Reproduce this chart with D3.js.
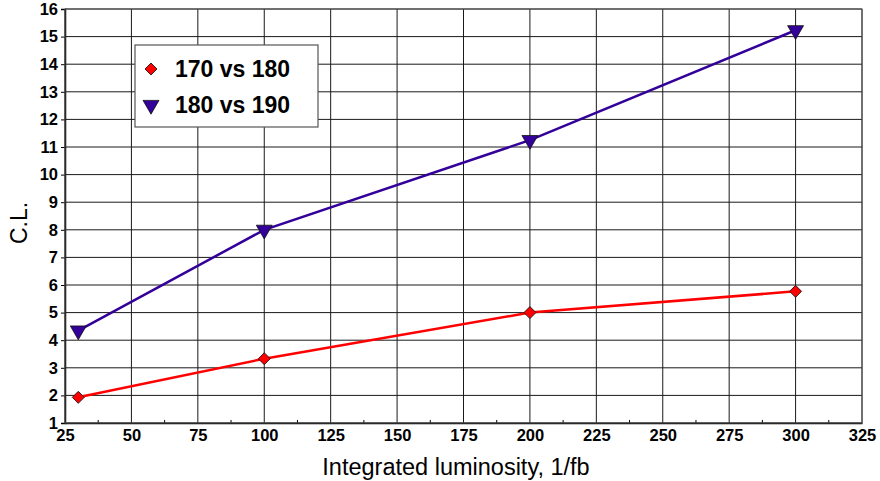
<!DOCTYPE html>
<html>
<head>
<meta charset="utf-8">
<script src="https://cdn.jsdelivr.net/npm/d3@7"></script>
<style>
  body { margin: 0; background: #fff; }
  svg { display: block; font-family: "Liberation Sans", Arial, sans-serif; }
</style>
</head>
<body>
<svg id="chart" width="880" height="481"></svg>
<script>
const lumi = [30, 100, 200, 300];
const cl170vs180 = [1.93, 3.33, 5.0, 5.77];
const cl180vs190 = [4.35, 8.0, 11.25, 15.23];
const seriesNames = ["170 vs 180", "180 vs 190"];
const xTicks = d3.range(25, 326, 25);
const yTicks = d3.range(1, 17, 1);

const width = 880;
const height = 481;
const margin = { top: 9, right: 18, bottom: 58, left: 65 };

const svg = d3.select("#chart");

const x = d3.scaleLinear().domain([25, 325]).range([margin.left, width - margin.right]);
const y = d3.scaleLinear().domain([1, 16]).range([height - margin.bottom, margin.top]);

// grid
const grid = svg.append("g");
grid.selectAll("line.v")
  .data(xTicks)
  .enter()
  .append("line")
  .attr("x1", (d) => x(d)).attr("x2", (d) => x(d))
  .attr("y1", y(1)).attr("y2", y(16))
  .attr("stroke", "#1a1a1a")
  .attr("stroke-width", 1);
grid.selectAll("line.h")
  .data(yTicks)
  .enter()
  .append("line")
  .attr("x1", x(25)).attr("x2", x(325))
  .attr("y1", (d) => y(d)).attr("y2", (d) => y(d))
  .attr("stroke", "#1a1a1a")
  .attr("stroke-width", 1);

// minor ticks on x axis (inside)
svg.append("g")
  .selectAll("line")
  .data(xTicks.slice(0, -1).map((d) => d + 12.5))
  .enter()
  .append("line")
  .attr("x1", (d) => x(d)).attr("x2", (d) => x(d))
  .attr("y1", y(1)).attr("y2", y(1) - 3)
  .attr("stroke", "#000");

// axes
const xAxis = svg.append("g")
  .attr("transform", `translate(0,${y(1)})`)
  .call(d3.axisBottom(x).tickValues(xTicks).tickSize(0).tickPadding(6));
const yAxis = svg.append("g")
  .attr("transform", `translate(${x(25)},0)`)
  .call(d3.axisLeft(y).tickValues(yTicks).tickSize(4).tickPadding(3));

[xAxis, yAxis].forEach((a) => {
  a.select(".domain").attr("stroke", "#000").attr("stroke-width", 1.5);
  a.selectAll("text")
    .attr("font-family", "Liberation Sans, Arial, sans-serif")
    .attr("font-size", 16.5)
    .attr("font-weight", "bold")
    .attr("fill", "#000");
});

// top/right frame
svg.append("rect")
  .attr("x", x(25)).attr("y", y(16))
  .attr("width", x(325) - x(25)).attr("height", y(1) - y(16))
  .attr("fill", "none")
  .attr("stroke", "#555")
  .attr("stroke-width", 1);

// axis titles
svg.append("text")
  .attr("x", 456)
  .attr("y", 475)
  .attr("text-anchor", "middle")
  .attr("font-size", 23.5)
  .text("Integrated luminosity, 1/fb");

svg.append("text")
  .attr("transform", `translate(27,223) rotate(-90)`)
  .attr("text-anchor", "middle")
  .attr("font-size", 23)
  .text("C.L.");

// series
const series = [
  { name: seriesNames[0], values: cl170vs180, color: "#ff0000", symbol: d3.symbolSquare, rotate: 45, size: 72 },
  { name: seriesNames[1], values: cl180vs190, color: "#330099", symbol: d3.symbolTriangle, rotate: 180, size: 110 },
];

const line = d3.line()
  .x((d) => x(d[0]))
  .y((d) => y(d[1]));

series.forEach((s) => {
  const pts = lumi.map((l, i) => [l, s.values[i]]);
  svg.append("path")
    .datum(pts)
    .attr("fill", "none")
    .attr("stroke", s.color)
    .attr("stroke-width", 2.5)
    .attr("d", line);
  svg.append("g")
    .selectAll("path")
    .data(pts)
    .enter()
    .append("path")
    .attr("d", d3.symbol().type(s.symbol).size(s.size))
    .attr("transform", (d) => `translate(${x(d[0])},${y(d[1])}) rotate(${s.rotate})`)
    .attr("fill", s.color)
    .attr("stroke", "#111")
    .attr("stroke-width", 0.8);
});

// legend
const legend = svg.append("g").attr("transform", "translate(135,45)");
legend.append("rect")
  .attr("width", 183).attr("height", 82)
  .attr("fill", "#fff")
  .attr("stroke", "#555")
  .attr("stroke-width", 1.2);
series.forEach((s, i) => {
  const row = legend.append("g").attr("transform", `translate(0,${24 + i * 36})`);
  row.append("path")
    .attr("d", d3.symbol().type(s.symbol).size(s.size))
    .attr("transform", `translate(16,0) rotate(${s.rotate})`)
    .attr("fill", s.color)
    .attr("stroke", "#111")
    .attr("stroke-width", 0.8);
  row.append("text")
    .attr("x", 40)
    .attr("y", 8)
    .attr("font-size", 23)
    .attr("font-weight", "bold")
    .text(s.name);
});
</script>
</body>
</html>
